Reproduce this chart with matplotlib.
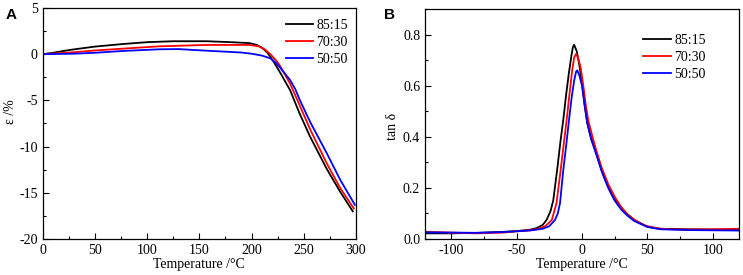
import matplotlib
matplotlib.use("Agg")
import matplotlib.pyplot as plt
from matplotlib.ticker import MultipleLocator, FormatStrFormatter

plt.rcParams['font.family'] = ['Liberation Serif', 'DejaVu Serif']
plt.rcParams['axes.unicode_minus'] = False

LABELS = ["85:15", "70:30", "50:50"]
COLORS = ["black", "red", "blue"]

# Panel A: strain vs temperature
a_t_8515 = [0, 10, 20, 30, 50, 77, 100, 125, 157, 180, 198, 205, 210, 215,
            220, 227, 237, 246, 256, 272, 285, 297]
a_e_8515 = [0, 0.15, 0.35, 0.52, 0.82, 1.1, 1.3, 1.4, 1.4, 1.3, 1.2, 1.0,
            0.7, 0.2, -0.6, -1.9, -3.9, -6.4, -8.9, -12.4, -14.9, -17.0]
a_t_7030 = [0, 29, 50, 77, 112, 157, 198, 207, 213, 218, 223, 227, 232,
            237, 246, 256, 272, 285, 298]
a_e_7030 = [0, 0.2, 0.4, 0.6, 0.85, 1.0, 1.0, 0.85, 0.5, 0.0, -0.6, -1.2,
            -2.2, -3.2, -5.5, -8.1, -11.8, -14.5, -16.7]
a_t_5050 = [0, 30, 50, 77, 112, 130, 150, 170, 190, 200, 210, 218, 223, 227,
            232, 237, 242, 246, 256, 272, 285, 299]
a_e_5050 = [0, 0.05, 0.15, 0.35, 0.53, 0.55, 0.42, 0.3, 0.18, 0.05, -0.15,
            -0.45, -0.9, -1.4, -2.1, -2.8, -3.8, -4.9, -7.3, -10.7, -13.6, -16.3]

# Panel B: tan delta vs temperature
b_t_8515 = [-120, -100, -80, -60, -50, -40, -35, -30, -27, -24, -22, -19,
            -16.5, -14.3, -12, -10, -8, -7, -6, -4, -2, 0, 2, 4, 7, 11, 15,
            20, 25, 29, 34, 40, 49, 55, 60, 80, 100, 120]
b_d_8515 = [0.022, 0.022, 0.024, 0.028, 0.031, 0.036, 0.042, 0.055, 0.075,
            0.11, 0.15, 0.27, 0.38, 0.467, 0.57, 0.65, 0.72, 0.75, 0.76,
            0.735, 0.68, 0.61, 0.525, 0.455, 0.395, 0.335, 0.27, 0.205,
            0.155, 0.125, 0.1, 0.075, 0.05, 0.043, 0.04, 0.038, 0.037, 0.036]
b_t_7030 = [-120, -100, -80, -60, -50, -40, -33, -28, -23, -19.5, -16.3,
            -14, -11.7, -9.5, -7.5, -6, -4.6, -3, -1, 1, 3, 5, 8, 11, 15, 20,
            25, 30, 35, 40, 45, 50, 60, 70, 80, 100, 120]
b_d_7030 = [0.028, 0.025, 0.022, 0.025, 0.03, 0.034, 0.04, 0.05, 0.075,
            0.14, 0.27, 0.37, 0.467, 0.57, 0.66, 0.71, 0.724, 0.71, 0.67,
            0.6, 0.52, 0.46, 0.4, 0.345, 0.28, 0.215, 0.165, 0.125, 0.095,
            0.075, 0.06, 0.05, 0.04, 0.038, 0.037, 0.038, 0.04]
b_t_5050 = [-120, -100, -80, -60, -50, -40, -30, -25, -20.6, -18.5, -16.8,
            -14.3, -12, -9.9, -8, -6, -4.5, -3.6, -2, 0, 2, 4, 7, 11, 15, 20,
            25, 30, 35, 40, 50, 60, 80, 100, 120]
b_d_5050 = [0.026, 0.025, 0.024, 0.027, 0.03, 0.033, 0.04, 0.05, 0.075, 0.1,
            0.14, 0.27, 0.37, 0.467, 0.55, 0.62, 0.655, 0.66, 0.64, 0.6,
            0.525, 0.455, 0.39, 0.33, 0.265, 0.2, 0.15, 0.115, 0.09, 0.07,
            0.047, 0.038, 0.035, 0.034, 0.033]

FS = 10


def style_axes(ax):
  ax.tick_params(which='both', direction='in', top=False, right=False,
                 labelsize=FS, width=0.8)
  ax.tick_params(which='major', length=4)
  ax.tick_params(which='minor', length=2)
  for sp in ax.spines.values():
    sp.set_linewidth(0.9)


fig = plt.figure(figsize=(7.43, 2.75), dpi=100)
ax_a = fig.add_axes([0.0575, 0.131, 0.4215, 0.84])
ax_b = fig.add_axes([0.572, 0.131, 0.4226, 0.836])

a_series = [(a_t_8515, a_e_8515), (a_t_7030, a_e_7030), (a_t_5050, a_e_5050)]
for (t, e), lab, c in zip(a_series, LABELS, COLORS):
  ax_a.plot(t, e, color=c, lw=1.3, label=lab)
ax_a.set_xlim(0, 300)
ax_a.set_ylim(-20, 5)
ax_a.xaxis.set_major_locator(MultipleLocator(50))
ax_a.xaxis.set_minor_locator(MultipleLocator(25))
ax_a.yaxis.set_major_locator(MultipleLocator(5))
ax_a.yaxis.set_minor_locator(MultipleLocator(2.5))
ax_a.set_xlabel("Temperature /°C", fontsize=FS, labelpad=1)
ax_a.set_ylabel("ε /%", fontsize=FS)
ax_a.yaxis.set_label_coords(-0.082, 0.55)
style_axes(ax_a)
ax_a.legend(loc='upper right', bbox_to_anchor=(1.0, 0.99), frameon=False,
            fontsize=FS, handlelength=2.0, handletextpad=0.2,
            labelspacing=0.3, borderaxespad=0.2)

b_series = [(b_t_8515, b_d_8515), (b_t_7030, b_d_7030), (b_t_5050, b_d_5050)]
for (t, d), lab, c in zip(b_series, LABELS, COLORS):
  ax_b.plot(t, d, color=c, lw=1.3, label=lab)
ax_b.set_xlim(-120, 120)
ax_b.set_ylim(0, 0.9)
ax_b.xaxis.set_major_locator(MultipleLocator(50))
ax_b.xaxis.set_minor_locator(MultipleLocator(25))
ax_b.yaxis.set_major_locator(MultipleLocator(0.2))
ax_b.yaxis.set_minor_locator(MultipleLocator(0.1))
ax_b.yaxis.set_major_formatter(FormatStrFormatter('%.1f'))
ax_b.set_xlabel("Temperature /°C", fontsize=FS, labelpad=1)
ax_b.set_ylabel("tan δ", fontsize=FS)
ax_b.yaxis.set_label_coords(-0.083, 0.49)
style_axes(ax_b)
ax_b.legend(loc='upper right', bbox_to_anchor=(0.92, 0.93), frameon=False,
            fontsize=FS, handlelength=2.0, handletextpad=0.2,
            labelspacing=0.3, borderaxespad=0.2)

fig.text(0.008, 0.970, "A", fontsize=11, fontweight='bold',
         family='Liberation Sans', va='top')
fig.text(0.517, 0.972, "B", fontsize=11, fontweight='bold',
         family='Liberation Sans', va='top')

fig.savefig("out.png", dpi=100)
